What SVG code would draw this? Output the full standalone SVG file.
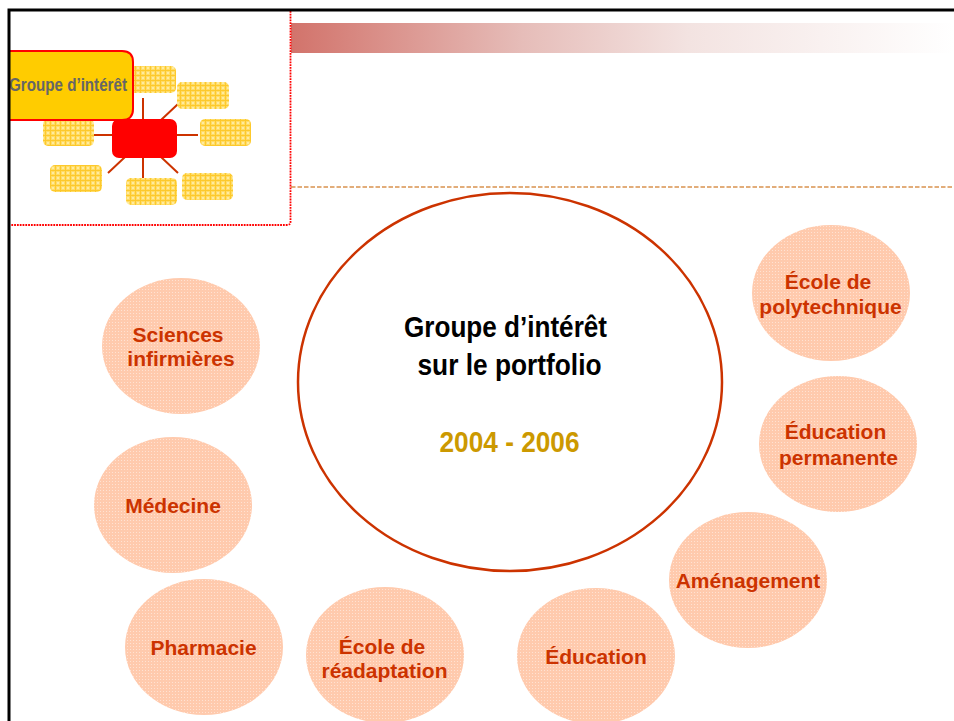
<svg xmlns="http://www.w3.org/2000/svg" width="954" height="721" viewBox="0 0 954 721">
<style>
text{font-family:"Liberation Sans",Arial,sans-serif;text-anchor:middle}
.lab{font-size:21px;font-weight:bold;fill:#cc3300}
.bub{fill:url(#dots)}
.mini{fill:url(#grid)}
.spoke{stroke:#cc3300;stroke-width:2;fill:none}
.main{font-size:30px;font-weight:bold;fill:#000}
</style>
<defs>
<linearGradient id="band" x1="0" x2="1" y1="0" y2="0"><stop offset="0" stop-color="#d2736b"/><stop offset=".35" stop-color="#e6bdb9"/><stop offset=".6" stop-color="#f3e3e1"/><stop offset="1" stop-color="#fff"/></linearGradient>
<pattern id="dots" width="3" height="3" patternUnits="userSpaceOnUse"><rect width="3" height="3" fill="#ffcaad"/><rect x="1" y="1" width="1" height="1" fill="#ffe2d2"/></pattern>
<pattern id="grid" width="5" height="5" patternUnits="userSpaceOnUse"><rect width="5" height="5" fill="#ffdc66"/><path d="M0 .5H5M.5 0V5" stroke="#fdc92c" stroke-width="1"/><rect x="2" y="2" width="2" height="2" fill="#ffeb9e"/></pattern>
</defs>
<rect width="954" height="721" fill="#fff"/>
<rect x="291" y="23" width="663" height="30" fill="url(#band)"/>
<path d="M291 187H954" stroke="#d9924f" stroke-width="1.500" stroke-dasharray="4.500 2" fill="none"/>
<path d="M290.500 11V222Q290.500 225 287 225H11" fill="none" stroke="#f00" stroke-width="1.800" stroke-dasharray="1.800 1"/>
<g id="connectors">
<path class="spoke" d="M143 98V120M161 120L178 104M94 135H113M177 135H198M125 157L108 173M143 157V180M161 157L178 173"/>
</g>
<g id="mini-1"><rect class="mini" x="120" y="66" width="56" height="27" rx="5"/></g>
<g id="mini-2"><rect class="mini" x="177" y="82" width="52" height="27" rx="5"/></g>
<g id="mini-3"><rect class="mini" x="43" y="119" width="51" height="27" rx="5"/></g>
<g id="mini-4"><rect class="mini" x="200" y="119" width="51" height="27" rx="5"/></g>
<g id="mini-5"><rect class="mini" x="50" y="165" width="52" height="27" rx="5"/></g>
<g id="mini-6"><rect class="mini" x="126" y="178" width="51" height="27" rx="5"/></g>
<g id="mini-7"><rect class="mini" x="182" y="173" width="51" height="27" rx="5"/></g>
<g id="mini-center"><rect x="112" y="119" width="65" height="39" rx="7" fill="#f00"/></g>
<g id="groupe-tag"><path d="M9 51H122Q133 51 133 62V109Q133 120 122 120H9Z" fill="#fc0" stroke="#f00" stroke-width="2"/><text x="68" y="91" font-size="18" font-weight="bold" fill="#666" textLength="118" lengthAdjust="spacingAndGlyphs">Groupe d’intérêt</text></g>
<path d="M954 10H9V721" fill="none" stroke="#000" stroke-width="3"/>
<g id="center"><ellipse cx="510" cy="382" rx="212" ry="189" fill="#fff" stroke="#cc3300" stroke-width="2.500"/>
<text class="main" x="505.500" y="337" textLength="203" lengthAdjust="spacingAndGlyphs">Groupe d’intérêt</text>
<text class="main" x="509.500" y="375" textLength="184" lengthAdjust="spacingAndGlyphs">sur le portfolio</text>
<text x="509.500" y="452" font-size="30" font-weight="bold" fill="#cc9900" textLength="140" lengthAdjust="spacingAndGlyphs">2004 - 2006</text></g>
<g id="sciences"><ellipse class="bub" cx="181" cy="346" rx="79" ry="68"/><text class="lab" x="178" y="342">Sciences</text><text class="lab" x="181" y="366">infirmières</text></g>
<g id="medecine"><ellipse class="bub" cx="173" cy="505" rx="79" ry="68"/><text class="lab" x="173" y="513">Médecine</text></g>
<g id="pharmacie"><ellipse class="bub" cx="204" cy="647" rx="79" ry="68"/><text class="lab" x="203.500" y="655">Pharmacie</text></g>
<g id="readaptation"><ellipse class="bub" cx="385" cy="655" rx="79" ry="68"/><text class="lab" x="382" y="654">École de</text><text class="lab" x="384.500" y="678">réadaptation</text></g>
<g id="education"><ellipse class="bub" cx="596" cy="656" rx="79" ry="68"/><text class="lab" x="596" y="664">Éducation</text></g>
<g id="amenagement"><ellipse class="bub" cx="748" cy="580" rx="79" ry="68"/><text class="lab" x="748" y="588">Aménagement</text></g>
<g id="permanente"><ellipse class="bub" cx="838" cy="444" rx="79" ry="68"/><text class="lab" x="835.500" y="439">Éducation</text><text class="lab" x="838.500" y="465">permanente</text></g>
<g id="polytechnique"><ellipse class="bub" cx="831" cy="293" rx="79" ry="68"/><text class="lab" x="828" y="289">École de</text><text class="lab" x="830.500" y="314">polytechnique</text></g>
</svg>
